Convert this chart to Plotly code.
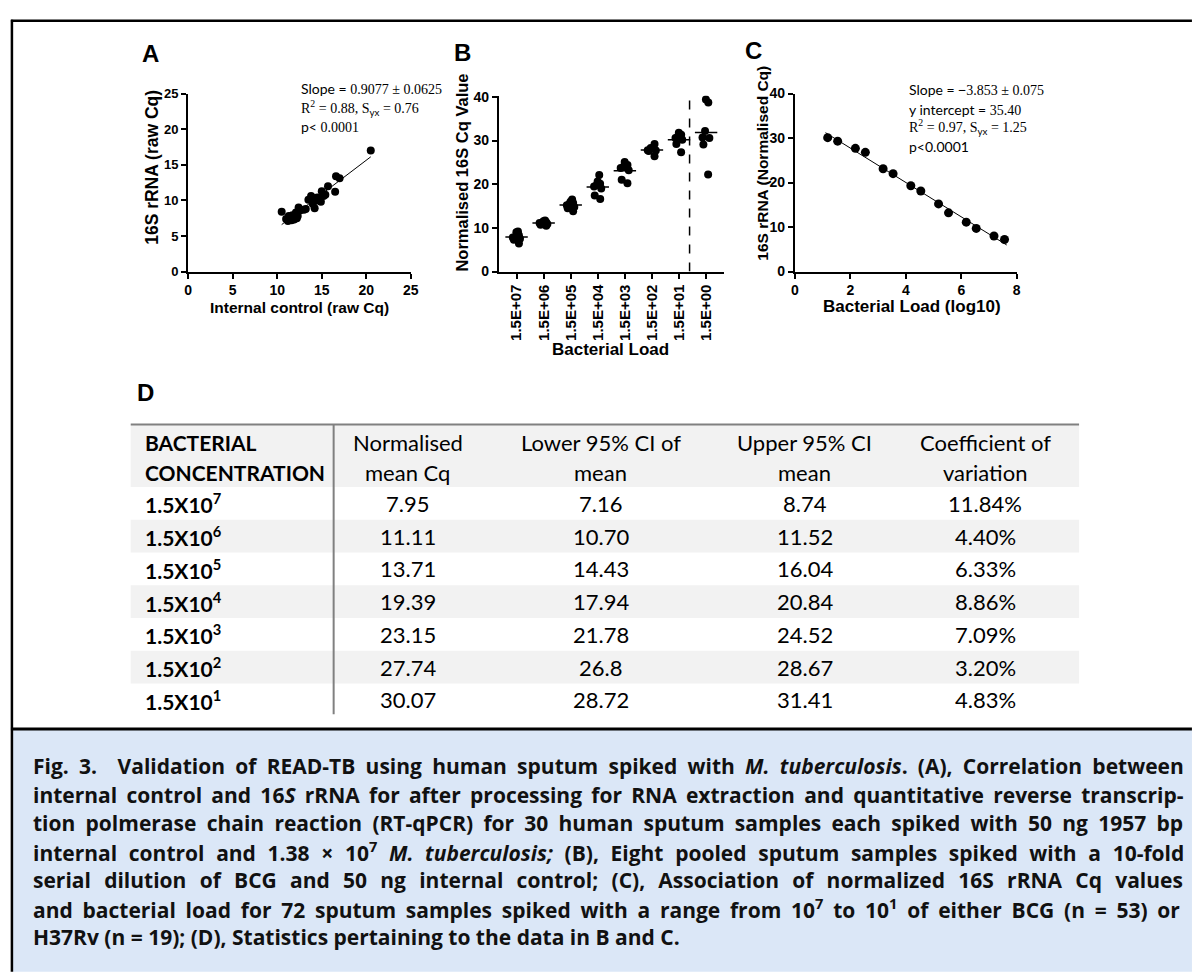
import numpy as np
import plotly.graph_objects as go

# ---------------- data ----------------
# Panel A: internal control vs 16S rRNA (raw Cq)
a_internal = [20.5, 10.5, 16.6, 17.0, 16.5, 15.7, 15.4, 15.0, 14.9, 14.5,
              14.1, 13.8, 13.5, 14.2, 13.2, 14.0, 12.4, 12.6, 12.1, 11.7,
              11.3, 11.2, 11.0, 11.9, 11.6, 12.3, 13.0, 12.2, 14.6, 15.2]
a_16s = [17.0, 8.4, 13.4, 13.1, 11.2, 12.0, 10.8, 11.3, 9.8, 10.4,
         10.3, 10.6, 10.1, 8.9, 8.8, 9.5, 9.0, 8.6, 8.3, 7.9,
         7.8, 7.1, 7.4, 7.3, 7.2, 7.8, 8.7, 7.5, 10.0, 10.6]

# Panel B: normalised 16S Cq by bacterial load
b_categories = ["1.5E+07", "1.5E+06", "1.5E+05", "1.5E+04",
                "1.5E+03", "1.5E+02", "1.5E+01", "1.5E+00"]
b_values = [
    [9.2, 9.0, 8.3, 7.9, 7.5, 7.3, 6.4, 7.8],
    [11.7, 11.5, 11.3, 11.1, 10.9, 10.7, 10.5, 11.2],
    [16.5, 16.0, 15.7, 15.2, 14.8, 14.5, 13.8, 15.5],
    [22.1, 20.6, 20.1, 19.8, 19.0, 17.4, 16.6, 19.5],
    [25.1, 24.4, 24.0, 23.7, 23.2, 21.0, 20.2],
    [29.2, 28.3, 27.8, 27.7, 27.6, 26.4],
    [31.8, 31.3, 30.9, 30.6, 30.2, 29.2, 27.3],
    [39.4, 38.7, 32.2, 30.7, 30.6, 29.1, 22.2],
]
b_divider = 6.39  # dashed separator between 1.5E+01 and 1.5E+00

# Panel C: normalised Cq vs log10 bacterial load
c_load = [1.18, 1.54, 2.18, 2.54, 3.18, 3.54, 4.18, 4.54,
          5.18, 5.54, 6.18, 6.54, 7.18, 7.56]
c_cq = [30.1, 29.3, 27.7, 26.8, 23.1, 22.0, 19.3, 18.1,
        15.2, 13.2, 11.1, 9.7, 8.0, 7.2]

# Panel D: table
d_headers = [["BACTERIAL", "CONCENTRATION"], ["Normalised", "mean Cq"],
             ["Lower 95% CI of", "mean"], ["Upper 95% CI", "mean"],
             ["Coefficient of", "variation"]]
d_exponent = [7, 6, 5, 4, 3, 2, 1]
d_mean = ["7.95", "11.11", "13.71", "19.39", "23.15", "27.74", "30.07"]
d_lower = ["7.16", "10.70", "14.43", "17.94", "21.78", "26.8", "28.72"]
d_upper = ["8.74", "11.52", "16.04", "20.84", "24.52", "28.67", "31.41"]
d_cv = ["11.84%", "4.40%", "6.33%", "8.86%", "7.09%", "3.20%", "4.83%"]

caption_lines = [
    "Fig. 3.&nbsp; Validation of READ-TB using human sputum spiked with <i>M. tuberculosis</i>. (A), Correlation between",
    "internal control and 16<i>S</i> rRNA for after processing for RNA extraction and quantitative reverse transcrip-",
    "tion polmerase chain reaction (RT-qPCR) for 30 human sputum samples each spiked with 50 ng 1957 bp",
    "internal control and 1.38 × 10<sup>7</sup> <i>M. tuberculosis;</i> (B), Eight pooled sputum samples spiked with a 10-fold",
    "serial dilution of BCG and 50 ng internal control; (C), Association of normalized 16S rRNA Cq values",
    "and bacterial load for 72 sputum samples spiked with a range from 10<sup>7</sup> to 10<sup>1</sup> of either BCG (n = 53) or",
    "H37Rv (n = 19); (D), Statistics pertaining to the data in B and C.",
]
# word spacing (px) used to justify each caption line
caption_spacing = [4.8, 3.8, 4.8, 6.2, 7.8, 4.3, 0]

# ---------------- geometry helpers (page pixels -> paper) ----------------
W, H = 1193, 972


def px(x):
    return x / W


def py(y):
    return 1 - y / H


ARIAL = "Liberation Sans"
SERIF = "Liberation Serif"
SANS = "Lato"
CAP = "Open Sans"

fig = go.Figure()

# Panel A
fig.add_trace(go.Scatter(x=a_internal, y=a_16s, mode="markers",
                         marker=dict(color="black", size=8),
                         xaxis="x", yaxis="y", showlegend=False))
sa, ia = np.polyfit(a_internal, a_16s, 1)
fa_x = np.array([min(a_internal), max(a_internal)])
fig.add_trace(go.Scatter(x=fa_x, y=sa * fa_x + ia, mode="lines",
                         line=dict(color="black", width=1),
                         xaxis="x", yaxis="y", showlegend=False))

# Panel B
for cat, vals in zip(b_categories, b_values):
    fig.add_trace(go.Box(x=[cat] * len(vals), y=vals, boxpoints="all",
                         jitter=0.75, pointpos=0,
                         fillcolor="rgba(0,0,0,0)",
                         line=dict(width=0, color="rgba(0,0,0,0)"),
                         marker=dict(color="black", size=8),
                         xaxis="x2", yaxis="y2", showlegend=False))
b_means = [float(np.mean(v)) for v in b_values]
fig.add_trace(go.Scatter(x=b_categories, y=b_means, mode="markers",
                         marker=dict(symbol="line-ew", size=16,
                                     line=dict(color="black", width=1.5)),
                         xaxis="x2", yaxis="y2", showlegend=False))

# Panel C
fig.add_trace(go.Scatter(x=c_load, y=c_cq, mode="markers",
                         marker=dict(color="black", size=9),
                         xaxis="x3", yaxis="y3", showlegend=False))
sc, ic = np.polyfit(c_load, c_cq, 1)
fc_x = np.array([min(c_load) - 0.08, max(c_load) + 0.08])
fig.add_trace(go.Scatter(x=fc_x, y=sc * fc_x + ic, mode="lines",
                         line=dict(color="black", width=1),
                         xaxis="x3", yaxis="y3", showlegend=False))

axis_common = dict(showline=True, linecolor="black", linewidth=2,
                   ticks="outside", ticklen=5, tickwidth=2, tickcolor="black",
                   showgrid=False, zeroline=False)


def tf(size):
    return dict(family=ARIAL, size=size, color="black", weight="bold")


fig.update_layout(
    width=W, height=H,
    margin=dict(l=0, r=0, t=0, b=0),
    paper_bgcolor="white", plot_bgcolor="rgba(0,0,0,0)",
    xaxis=dict(domain=[px(186), px(411)], range=[0, 25], tickvals=[0, 5, 10, 15, 20, 25],
               anchor="y", tickfont=tf(14), **axis_common),
    yaxis=dict(domain=[py(268), py(87)], range=[0, 25], tickvals=[0, 5, 10, 15, 20, 25],
               anchor="x", tickfont=tf(13), **axis_common),
    xaxis2=dict(domain=[px(500), px(727)], range=[-0.65, 7.65], type="category",
                categoryorder="array", categoryarray=b_categories, tickangle=-90,
                anchor="y2", tickfont=tf(15), **axis_common),
    yaxis2=dict(domain=[py(268), py(89)], range=[0, 40.3], tickvals=[0, 10, 20, 30, 40],
                anchor="x2", tickfont=tf(14), **axis_common),
    xaxis3=dict(domain=[px(799), px(1023)], range=[0, 8], tickvals=[0, 2, 4, 6, 8],
                anchor="y3", tickfont=tf(14), **axis_common),
    yaxis3=dict(domain=[py(268), py(87)], range=[0, 40], tickvals=[0, 10, 20, 30, 40],
                anchor="x3", tickfont=tf(14), **axis_common),
)

shapes = []
# dashed divider in B
shapes.append(dict(type="line", xref="x2", yref="y2", x0=b_divider, x1=b_divider,
                   y0=0, y1=40.4, line=dict(color="black", width=1.5, dash="dash")))
# caption background
shapes.append(dict(type="rect", xref="paper", yref="paper", x0=px(9), x1=px(1200),
                   y0=py(734), y1=py(980), fillcolor="#dbe7f7", line=dict(width=0), layer="below"))
# outer frame
shapes.append(dict(type="line", xref="paper", yref="paper", x0=px(7), x1=px(1200),
                   y0=py(13), y1=py(13), line=dict(color="black", width=2.5)))
shapes.append(dict(type="line", xref="paper", yref="paper", x0=px(8), x1=px(8),
                   y0=py(12), y1=py(980), line=dict(color="black", width=2.5)))
shapes.append(dict(type="line", xref="paper", yref="paper", x0=px(7), x1=px(1200),
                   y0=py(733), y1=py(733), line=dict(color="black", width=3)))

# table fills
T_L, T_R = 128, 1086
row_h = 33.3
row_top = [487 + row_h * i for i in range(len(d_mean))]
shapes.append(dict(type="rect", xref="paper", yref="paper", x0=px(T_L), x1=px(T_R),
                   y0=py(487), y1=py(424), fillcolor="#f2f2f2", line=dict(width=0), layer="below"))
for i, top in enumerate(row_top):
    if i % 2 == 1:
        shapes.append(dict(type="rect", xref="paper", yref="paper", x0=px(T_L), x1=px(T_R),
                           y0=py(top + row_h), y1=py(top), fillcolor="#f2f2f2",
                           line=dict(width=0), layer="below"))
shapes.append(dict(type="line", xref="paper", yref="paper", x0=px(T_L), x1=px(T_R),
                   y0=py(423.5), y1=py(423.5), line=dict(color="#808080", width=2)))
shapes.append(dict(type="line", xref="paper", yref="paper", x0=px(333), x1=px(333),
                   y0=py(423.5), y1=py(718), line=dict(color="#808080", width=2)))
fig.update_layout(shapes=shapes)

ann = []


def text(x, y, s, size, family=ARIAL, xanchor="center", yanchor="middle", angle=0,
         weight="normal", color="black"):
    ann.append(dict(x=px(x), y=py(y), xref="paper", yref="paper", text=s, showarrow=False,
                    xanchor=xanchor, yanchor=yanchor, textangle=angle,
                    font=dict(family=family, size=size, color=color, weight=weight)))


# panel letters
text(148, 46, "A", 24, weight="bold")
text(463, 45, "B", 24, weight="bold")
text(757, 43, "C", 24, weight="bold")
text(143, 391, "D", 24, weight="bold")

# axis titles
text(298, 305, "Internal control (raw Cq)", 15.5, weight="bold")
text(150, 162, "16S rRNA (raw Cq)", 17.5, weight="bold", angle=-90)
text(613, 347, "Bacterial Load", 17, weight="bold")
text(463, 167, "Normalised 16S Cq Value", 16.5, weight="bold", angle=-90)
text(917, 304, "Bacterial Load (log10)", 17, weight="bold")
text(766, 158, "16S rRNA (Normalised Cq)", 15.5, weight="bold", angle=-90)


def sp(s):
    return '<span style="font-family:Lato">' + s + '</span>'


# stats annotations A
text(298, 82, sp("Slope = ") + "0.9077 ± 0.0625", 14, family=SERIF, xanchor="left")
text(298, 102, "R<sup>2</sup> = 0.88, S<sub>" + sp("yx") + "</sub> = 0.76", 14, family=SERIF, xanchor="left")
text(298, 120, sp("p< ") + "0.0001", 14, family=SERIF, xanchor="left")
# stats annotations C
text(912, 83, sp("Slope = ") + "<b>−</b>3.853 ± 0.075", 14, family=SERIF, xanchor="left")
text(912, 103, sp("y intercept = ") + "35.40", 14, family=SERIF, xanchor="left")
text(912, 121, "R<sup>2</sup> = 0.97, S<sub>" + sp("yx") + "</sub> = 1.25", 14, family=SERIF, xanchor="left")
text(912, 141, sp("p<0.0001"), 14, family=SERIF, xanchor="left")

# table text
col_x = [140, 408, 603, 809, 991]
for j, (l1, l2) in enumerate(d_headers):
    if j == 0:
        text(col_x[0], 442, l1, 21, family=SANS, xanchor="left", weight="bold")
        text(col_x[0], 472, l2, 21, family=SANS, xanchor="left", weight="bold")
    else:
        text(col_x[j], 442, l1, 22, family=SANS)
        text(col_x[j], 472, l2, 22, family=SANS)
for i, top in enumerate(row_top):
    yc = top + row_h / 2
    text(col_x[0], yc, "1.5X10<sup>%d</sup>" % d_exponent[i], 21, family=SANS,
         xanchor="left", weight="bold")
    text(col_x[1], yc, d_mean[i], 22, family=SANS)
    text(col_x[2], yc, d_lower[i], 22, family=SANS)
    text(col_x[3], yc, d_upper[i], 22, family=SANS)
    text(col_x[4], yc, d_cv[i], 22, family=SANS)

# caption
cap_y = [771, 800, 829, 858, 887, 916, 945]
for s, yc, ws in zip(caption_lines, cap_y, caption_spacing):
    body = '<span style="word-spacing:%.1fpx">%s</span>' % (ws, s) if ws else s
    text(27, yc, body, 21, family=CAP, xanchor="left", weight="bold", color="#111111")

fig.update_layout(annotations=ann)
fig.write_html(
    "out.html",
    config={"displayModeBar": False},
    post_script="document.body.style.margin='0';"
                "document.body.style.overflow='hidden';"
                "document.documentElement.style.overflow='hidden';",
)
